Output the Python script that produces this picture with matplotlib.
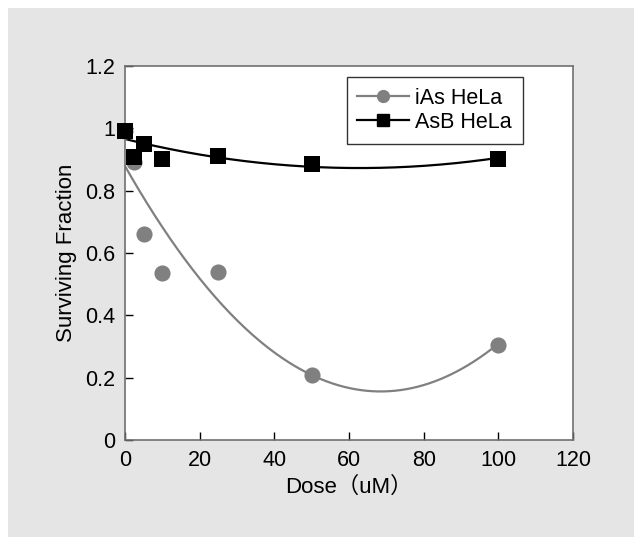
import matplotlib.pyplot as plt
import numpy as np
from matplotlib.patches import Rectangle

plt.rcParams['font.family'] = ['Liberation Sans', 'DejaVu Sans']

# data
dose = [0, 2.5, 5, 10, 25, 50, 100]
ias_hela = [0.99, 0.892, 0.661, 0.535, 0.54, 0.208, 0.305]
asb_hela = [0.992, 0.908, 0.95, 0.901, 0.912, 0.886, 0.903]
x_ticks = [0, 20, 40, 60, 80, 100, 120]
y_ticks = [0, 0.2, 0.4, 0.6, 0.8, 1.0, 1.2]
y_labels = ['0', '0.2', '0.4', '0.6', '0.8', '1', '1.2']

W, H = 634, 537
fig = plt.figure(figsize=(W / 100, H / 100), dpi=100)
fig.patch.set_facecolor('#e5e5e5')
# thin white strips on the top and left edge
fig.patches.append(Rectangle((0, 1 - 8 / H), 1, 8 / H, transform=fig.transFigure,
                             facecolor='white', edgecolor='none', zorder=-1))
fig.patches.append(Rectangle((0, 0), 8 / W, 1, transform=fig.transFigure,
                             facecolor='white', edgecolor='none', zorder=-1))

ax = fig.add_axes([125 / W, 1 - 440 / H, 448 / W, 374 / H])
ax.set_facecolor('white')

# quadratic trend lines (the 2.5 uM AsB point seems left out of its fit)
xs = np.linspace(0, 100, 200)
fit_ias = np.polyfit(dose, ias_hela, 2)
asb_dose_fit = [d for i, d in enumerate(dose) if i != 1]
asb_val_fit = [v for i, v in enumerate(asb_hela) if i != 1]
fit_asb = np.polyfit(asb_dose_fit, asb_val_fit, 2)

grey = '#808080'
ax.plot(xs, np.polyval(fit_ias, xs), color=grey, lw=1.6, zorder=2)
ax.plot(xs, np.polyval(fit_asb, xs), color='black', lw=1.6, zorder=2)
ax.scatter(dose, ias_hela, s=135, color=grey, marker='o', zorder=3,
           linewidths=0, clip_on=False)
ax.scatter(dose, asb_hela, s=140, color='black', marker='s', zorder=4,
           linewidths=0, clip_on=False)

# legend handles
ax.plot([], [], color=grey, marker='o', ms=8.5, lw=1.6, label='iAs HeLa')
ax.plot([], [], color='black', marker='s', ms=8, lw=1.6, label='AsB HeLa')
leg = ax.legend(loc='upper right', bbox_to_anchor=(0.888, 0.971), fontsize=15.5,
                frameon=True, fancybox=False, handlelength=2.4, borderpad=0.5,
                labelspacing=0.15, handletextpad=0.3, borderaxespad=0)
leg.get_frame().set_edgecolor('black')
leg.get_frame().set_linewidth(1.0)

ax.set_xlim(0, 120)
ax.set_ylim(0, 1.2)
ax.set_xticks(x_ticks)
ax.set_yticks(y_ticks)
ax.set_yticklabels(y_labels)
ax.tick_params(direction='in', length=6, labelsize=15.5, color='black', width=1)
ax.tick_params(axis='x', pad=7)
ax.tick_params(axis='y', pad=7)
for s in ax.spines.values():
    s.set_color('#707070')
    s.set_linewidth(1.2)

ax.set_xlabel('Dose\uff08uM\uff09', fontsize=16, labelpad=4,
              family=['Liberation Sans', 'Noto Sans CJK JP'])
ax.set_ylabel('Surviving Fraction', fontsize=16, labelpad=6)

fig.savefig('out.png', dpi=100)
